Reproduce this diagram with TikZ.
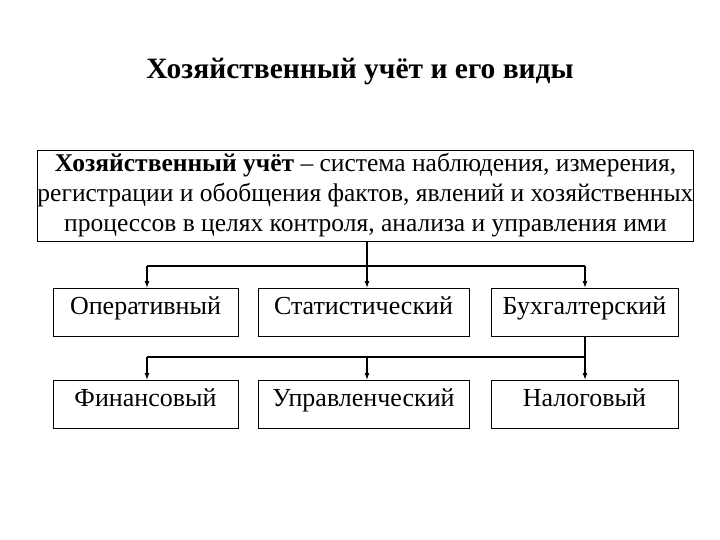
\documentclass[tikz,border=0pt]{standalone}
\usepackage{fontspec}
\setmainfont{Liberation Serif}
\usetikzlibrary{arrows.meta}
\begin{document}
\begin{tikzpicture}[x=1pt,y=-1pt,
  box/.style={draw,line width=0.8pt,minimum width=#1,minimum height=48pt,inner sep=0pt,text height=0.72em,text depth=0.22em,font=\fontsize{26}{30}\selectfont},
  conn/.style={line width=1.3pt},
  arr/.style={line width=1.3pt,-{Latex[length=7pt,width=5pt]}}]
\useasboundingbox (0,0) rectangle (720,540);
\node (title) at (360,72) {\fontsize{29.5}{34}\selectfont\bfseries Хозяйственный учёт и его виды};
\node[draw,line width=0.8pt,minimum width=625pt,minimum height=91pt,inner sep=0pt,align=center,font=\fontsize{25.5}{30}\selectfont] (main) at (365.5,195.5)
 {\textbf{Хозяйственный учёт} – система наблюдения, измерения,\\регистрации и обобщения фактов, явлений и хозяйственных\\процессов в целях контроля, анализа и управления ими};
\node[box=185pt] (a1) at (145.5,312) {Оперативный};
\node[box=211pt] (a2) at (363.5,312) {Статистический};
\node[box=187pt] (a3) at (584.5,312) {Бухгалтерский};
\node[box=185pt] (b1) at (145.5,404) {Финансовый};
\node[box=211pt] (b2) at (363.5,404) {Управленческий};
\node[box=187pt] (b3) at (584.5,404) {Налоговый};
\coordinate (j1) at (367,266);
\coordinate (j2) at (585,357);
\draw[conn] (main.south -| j1) -- (j1);
\draw[conn] (147,266) -- (585,266);
\draw[arr] (147,266) -- (147,288);
\draw[arr] (j1) -- (367,288);
\draw[arr] (585,266) -- (585,288);
\draw[conn] (a3.south -| j2) -- (j2);
\draw[conn] (147,357) -- (j2);
\draw[arr] (147,357) -- (147,380);
\draw[arr] (367,357) -- (367,380);
\draw[arr] (j2) -- (585,380);
\end{tikzpicture}
\end{document}
